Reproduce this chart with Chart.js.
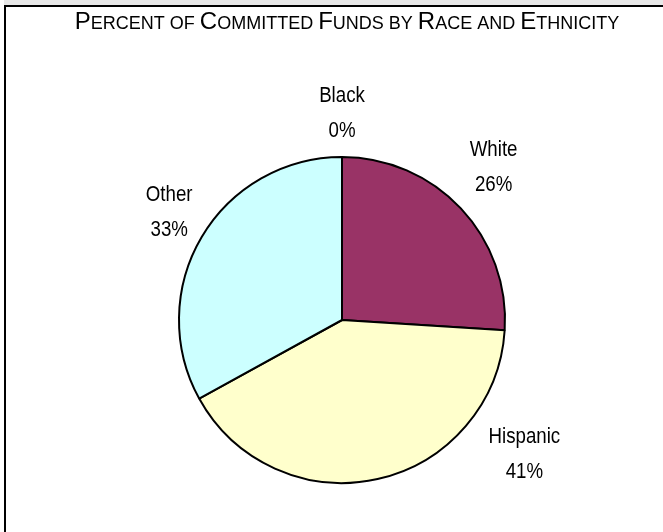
<!DOCTYPE html>
<html>
<head>
<meta charset="utf-8">
<title>Percent of Committed Funds by Race and Ethnicity</title>
<script src="https://cdn.jsdelivr.net/npm/chart.js@4/dist/chart.umd.min.js"></script>
<style>
  html, body { margin: 0; padding: 0; background: #fff; }
  #wrap { position: relative; width: 663px; height: 532px; overflow: hidden; }
  #band { position: absolute; left: 4px; top: 0; width: 659px; height: 5px; background: #e8e8e8; }
  #topline { position: absolute; left: 4px; top: 5px; width: 659px; height: 2px; background: #000; }
  #leftline { position: absolute; left: 4px; top: 5px; width: 2px; height: 527px; background: #000; }
  canvas { position: absolute; left: 0; top: 0; }
</style>
</head>
<body>
<div id="wrap">
  <canvas id="chart" width="663" height="532"></canvas>
  <div id="band"></div>
  <div id="topline"></div>
  <div id="leftline"></div>
</div>
<script>
// Share of committed funds, clockwise from 12 o'clock
const categories = ['Black', 'White', 'Hispanic', 'Other'];
const percentages = [0, 26, 41, 33];
const sliceColors = ['#000000', '#993366', '#FFFFCC', '#CCFFFF'];
const chartTitle = 'Percent of Committed Funds by Race and Ethnicity';

const LABEL_FONT = '"Liberation Sans", Arial, sans-serif';
const TITLE_FONT = '"Liberation Sans", Arial, sans-serif';

// Title in small capitals: capitals large, the rest upper-cased at a smaller size
const smallCapsTitle = {
  id: 'smallCapsTitle',
  afterDraw(chart, args, opts) {
    const ctx = chart.ctx;
    const runs = [];
    for (const ch of opts.text) {
      const big = ch !== ' ' && ch === ch.toUpperCase() && ch !== ch.toLowerCase();
      const size = big ? opts.bigSize : opts.smallSize;
      const last = runs[runs.length - 1];
      if (last && last.size === size) last.text += ch.toUpperCase();
      else runs.push({ size, text: ch.toUpperCase() });
    }
    ctx.save();
    ctx.fillStyle = '#000';
    ctx.textBaseline = 'alphabetic';
    ctx.textAlign = 'left';
    let total = 0;
    for (const r of runs) {
      ctx.font = `${opts.weight} ${r.size}px ${opts.family}`;
      r.w = ctx.measureText(r.text).width;
      total += r.w;
    }
    ctx.translate(opts.centerX, opts.baseline);
    ctx.scale(opts.scaleX, 1);
    let x = -total / 2;
    for (const r of runs) {
      ctx.font = `${opts.weight} ${r.size}px ${opts.family}`;
      ctx.fillText(r.text, x, 0);
      x += r.w;
    }
    ctx.restore();
  }
};

// Category name and percentage placed outside each slice, in a condensed face
const outsideLabels = {
  id: 'outsideLabels',
  afterDatasetsDraw(chart, args, opts) {
    const ctx = chart.ctx;
    const meta = chart.getDatasetMeta(0);
    const data = chart.data.datasets[0].data;
    meta.data.forEach((arc, i) => {
      const mid = (arc.startAngle + arc.endAngle) / 2 + (opts.angleShift[i] || 0) * Math.PI / 180;
      const dist = arc.outerRadius * opts.distance[i];
      const cx = arc.x + Math.cos(mid) * dist;
      const cy = arc.y + Math.sin(mid) * dist;
      ctx.save();
      ctx.fillStyle = '#000';
      ctx.textAlign = 'center';
      ctx.textBaseline = 'middle';
      ctx.font = `${opts.size}px ${opts.family}`;
      ctx.translate(cx, cy);
      ctx.scale(opts.scaleX, 1);
      ctx.fillText(chart.data.labels[i], 0, -opts.lineGap / 2);
      ctx.fillText(data[i] + '%', 0, opts.lineGap / 2);
      ctx.restore();
    });
  }
};

new Chart(document.getElementById('chart'), {
  type: 'pie',
  data: {
    labels: categories,
    datasets: [{
      data: percentages,
      backgroundColor: sliceColors,
      borderColor: '#000',
      borderWidth: 2
    }]
  },
  options: {
    responsive: false,
    animation: false,
    layout: { padding: { left: 178, right: 157, top: 156, bottom: 48 } },
    plugins: {
      legend: { display: false },
      title: { display: false },
      tooltip: { enabled: false },
      smallCapsTitle: {
        text: chartTitle, bigSize: 24, smallSize: 18, weight: 'normal',
        family: TITLE_FONT, centerX: 347, baseline: 29, scaleX: 1.0
      },
      outsideLabels: {
        size: 22, family: LABEL_FONT, lineGap: 35, scaleX: 0.85,
        angleShift: [0, -2, -41, 1.4],
        distance: [1.27, 1.32, 1.39, 1.25]
      }
    }
  },
  plugins: [smallCapsTitle, outsideLabels]
});
</script>
</body>
</html>
